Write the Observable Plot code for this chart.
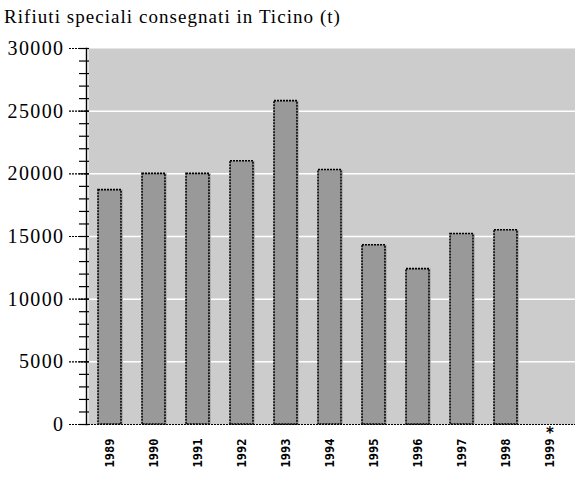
<!DOCTYPE html>
<html>
<head>
<meta charset="utf-8">
<script src="https://cdn.jsdelivr.net/npm/d3@7"></script>
<script src="https://cdn.jsdelivr.net/npm/@observablehq/plot@0.6"></script>
<style>
  body { margin: 0; background: #fff; }
  #title { font-family: "Liberation Serif", serif; font-size: 19px; letter-spacing: 1.05px; height: 30px; line-height: 33px; padding-left: 4px; white-space: nowrap; }
  svg { display: block; }
  .ylab text { letter-spacing: 1.4px; }
</style>
</head>
<body>
<div id="title">Rifiuti speciali consegnati in Ticino (t)</div>
<div id="chart"></div>
<script>
const years = ["1989","1990","1991","1992","1993","1994","1995","1996","1997","1998","1999"];
const values = [18700, 20000, 20000, 21000, 25800, 20300, 14300, 12400, 15200, 15500, null];
const yMajorTicks = [0, 5000, 10000, 15000, 20000, 25000, 30000];
const yMinorTicks = d3.range(0, 30001, 1000);
const gridTicks = [5000, 10000, 15000, 20000, 25000];
const noteYear = "1999";
const noteLabel = "*";

const data = years.map((y, i) => ({year: y, value: values[i]})).filter(d => d.value != null);

const chart = Plot.plot({
  width: 575,
  height: 456,
  marginTop: 18,
  marginBottom: 62,
  marginLeft: 88,
  marginRight: 0,
  style: {background: "#fff", overflow: "visible"},
  x: {domain: years, range: [86.6, 571.4], paddingInner: 0.48, paddingOuter: 0.2},
  y: {domain: [0, 30000]},
  marks: [
    Plot.frame({fill: "#cccccc", stroke: "none"}),
    Plot.ruleY(gridTicks, {stroke: "#fff", strokeWidth: 1.5}),
    Plot.barY(data, {x: "year", y: "value", fill: "#b2b2b2", dx: 2}),
    Plot.barY(data, {x: "year", y: "value", fill: "#999999", stroke: "#000", strokeWidth: 1.6, strokeDasharray: "2,1"}),
    Plot.ruleY([0], {stroke: "#000", strokeWidth: 1.2, strokeDasharray: "2,1"}),
    Plot.frame({anchor: "left", stroke: "#000", strokeWidth: 1.4, strokeDasharray: "2,1", dx: -2}),
    Plot.axisY(yMinorTicks, {tickSize: 10, dx: 1, tickFormat: () => "", stroke: "#000", strokeWidth: 1.2, label: null}),
    Plot.axisY(yMajorTicks, {tickSize: 20, dx: 1, tickPadding: 5, tickFormat: d => String(d), stroke: "#000", strokeWidth: 1.2, strokeDasharray: "2,1", fontSize: 20, fontFamily: "Liberation Serif", fill: "#000", label: null, className: "ylab"}),
    Plot.axisX(years, {tickSize: 0, tickRotate: -90, tickPadding: 14, fontSize: 12, fontWeight: "bold", fontFamily: "DejaVu Sans Mono", label: null, fill: "#000"}),
    Plot.text([noteYear], {x: d => d, y: () => 0, text: () => noteLabel, dy: 9, fontSize: 15, fontWeight: "bold", fill: "#000", fontFamily: "DejaVu Sans"})
  ]
});
document.getElementById("chart").appendChild(chart);
</script>
</body>
</html>
